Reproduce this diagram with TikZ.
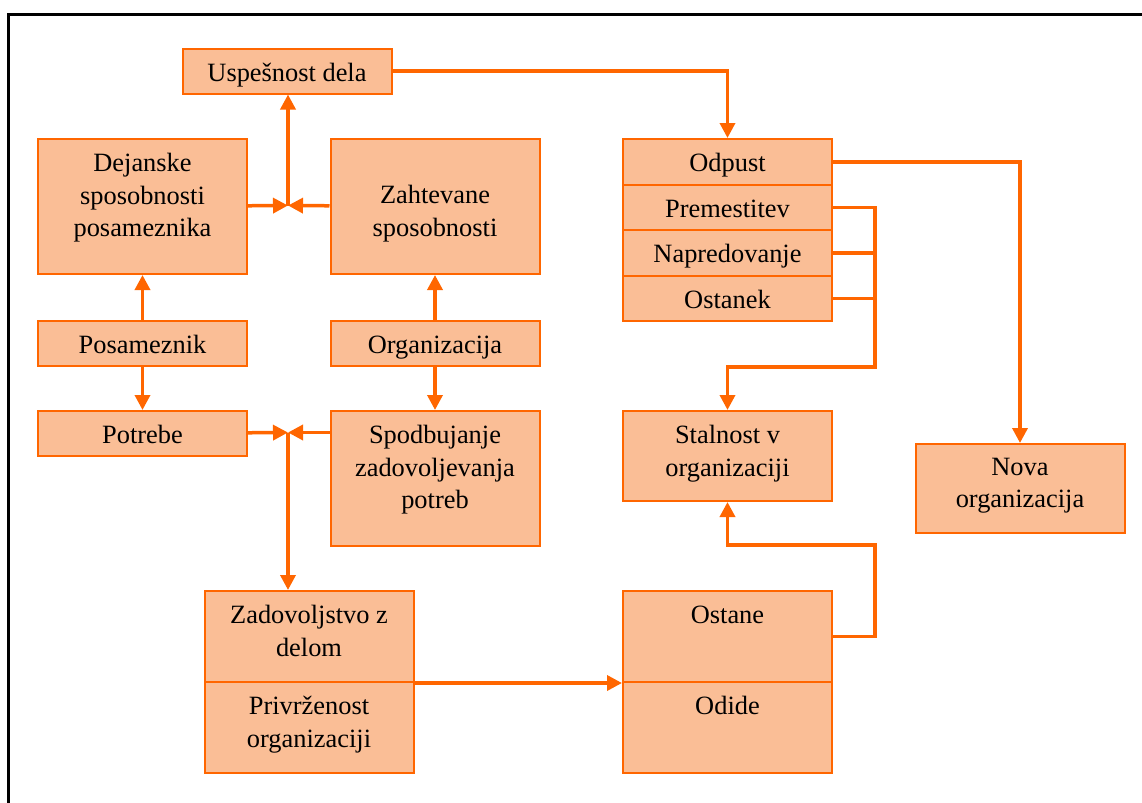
\documentclass[tikz,border=0pt]{standalone}
\usepackage{fontspec}
\setmainfont{Liberation Serif}
\usepackage{tikz}
\usetikzlibrary{arrows.meta, calc}
\definecolor{lineorange}{RGB}{255,102,0}
\definecolor{boxfill}{RGB}{250,190,150}

\begin{document}
\begin{tikzpicture}[x=0.5pt, y=-0.5pt,
  font=\fontsize{13.2}{16.25}\selectfont,
  box/.style={draw=lineorange, line width=1pt, fill=boxfill, align=flush center,
              inner sep=0pt, anchor=north, text width=104.5pt,
              text height=16.25pt, text depth=6.25pt},
  tall/.style={box, text depth=51.25pt},
  half/.style={box, text depth=29.25pt},
  row/.style={box, text depth=6.5pt},
  link/.style={lineorange, line width=1.75pt},
  arr/.style={link, -{Triangle[length=7.5pt, width=7.5pt]}}]
  \useasboundingbox (0,0) rectangle (1142,803);
  \clip (0,0) rectangle (1142,803);
  \draw[line width=1.5pt] (8,14) rectangle (1160,820);
  % left half
  \node[box]  (usp)  at (287,47.5)  {Uspešnost dela};
  \node[tall] (dej)  at (142.5,138) {Dejanske\\sposobnosti\\posameznika};
  \node[tall, text height=32.25pt, text depth=35.25pt] (zaht) at (435,138)
    {Zahtevane\\sposobnosti};
  \node[box]  (pos)  at (142.5,320) {Posameznik};
  \node[box]  (org)  at (435,320)   {Organizacija};
  \node[box]  (potr) at (142.5,410) {Potrebe};
  \node[tall] (spod) at (435,410)   {Spodbujanje\\zadovoljevanja\\potreb};
  \node[half] (zad)  at (309,590)   {Zadovoljstvo z\\delom};
  \node[half] (priv) at (309,681)   {Privrženost\\organizaciji};
  % right half
  \node[row]  (odp)  at (727.5,138)   {Odpust};
  \node[row]  (prem) at (727.5,183.5) {Premestitev};
  \node[row]  (napr) at (727.5,229)   {Napredovanje};
  \node[row]  (ostk) at (727.5,274.5) {Ostanek};
  \node[half, text depth=28.75pt] (stal) at (727.5,410) {Stalnost v\\organizaciji};
  \node[half, text height=15.5pt, text depth=29pt] (nova) at (1020,443)
    {Nova\\organizacija};
  \node[half] (ostane) at (727.5,590) {Ostane};
  \node[half] (odide)  at (727.5,681) {Odide};
  \coordinate (jtop)  at (288,205.5);
  \coordinate (jbot)  at (288,432.5);
  \coordinate (railA) at (875,367);
  \coordinate (railB) at (875,545);
  \draw[arr] (dej) -- (jtop);
  \draw[arr] (zaht) -- (jtop);
  \draw[arr] (jtop) -- (usp.south -| jtop);
  \draw[arr] (pos) -- (dej);
  \draw[arr] (pos) -- (potr);
  \draw[arr] (org) -- (zaht);
  \draw[arr] (org) -- (spod);
  \draw[arr] (potr) -- (jbot);
  \draw[arr] (spod.west |- jbot) -- (jbot);
  \draw[arr] (jbot) -- (zad.north -| jbot);
  \draw[arr] (zad.south east) -- (ostane.south west);
  \draw[arr] (usp.east) -| (odp.north);
  \draw[arr] (odp.east) -| (nova.north);
  \draw[arr] (prem.east) -| (railA) -| (stal.north);
  \draw[link] (napr.east) -- (napr.east -| railA);
  \draw[link] (ostk.east) -- (ostk.east -| railA);
  \draw[arr] (ostane.east) -| (railB) -| (stal.south);
\end{tikzpicture}
\end{document}
